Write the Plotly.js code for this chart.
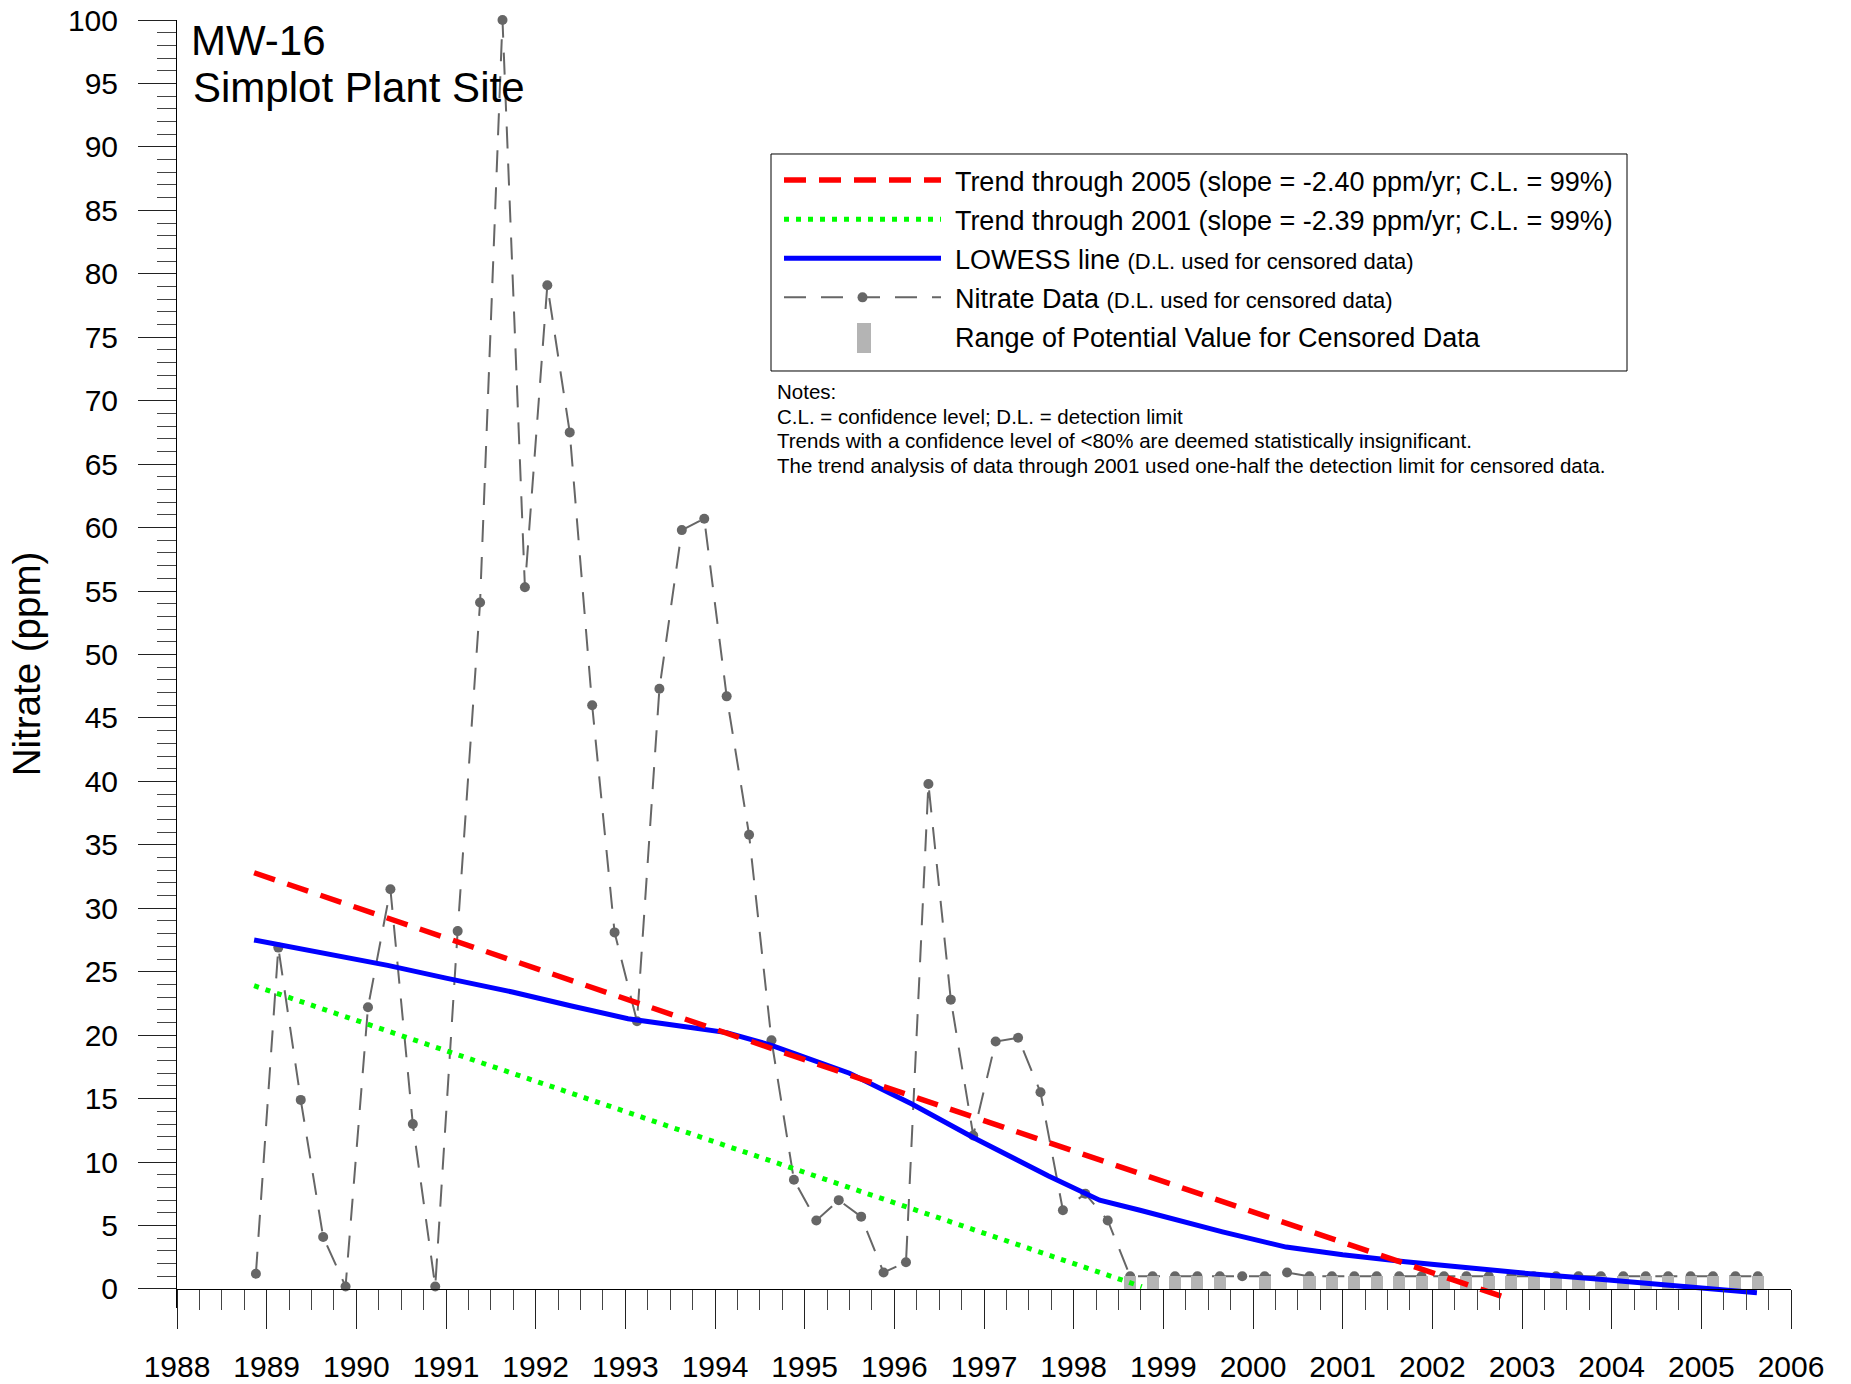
<!DOCTYPE html>
<html>
<head>
<meta charset="utf-8">
<script src="https://cdn.plot.ly/plotly-3.0.1.min.js"></script>
<style>html,body{margin:0;padding:0;background:#fff}#chart{width:1851px;height:1384px}</style>
</head>
<body>
<div id="chart"></div>
<script>
// ---- data ----
const sampleYears = [
  1988.88, 1989.13, 1989.38, 1989.63, 1989.88, 1990.13, 1990.38, 1990.63, 1990.88,
  1991.13, 1991.38, 1991.63, 1991.88, 1992.13, 1992.38, 1992.63, 1992.88,
  1993.13, 1993.38, 1993.63, 1993.88, 1994.13, 1994.38, 1994.63, 1994.88,
  1995.13, 1995.38, 1995.63, 1995.88, 1996.13, 1996.38, 1996.63, 1996.88,
  1997.13, 1997.38, 1997.63, 1997.88, 1998.13, 1998.38, 1998.63, 1998.88,
  1999.13, 1999.38, 1999.63, 1999.88, 2000.13, 2000.38, 2000.63, 2000.88,
  2001.13, 2001.38, 2001.63, 2001.88, 2002.13, 2002.38, 2002.63, 2002.88,
  2003.13, 2003.38, 2003.63, 2003.88, 2004.13, 2004.38, 2004.63, 2004.88,
  2005.13, 2005.38, 2005.63
];
const nitrate = [
  1.2, 26.9, 14.9, 4.1, 0.2, 22.2, 31.5, 13.0, 0.2,
  28.2, 54.1, 100, 55.3, 79.1, 67.5, 46.0, 28.1,
  21.1, 47.3, 59.8, 60.7, 46.7, 35.8, 19.6, 8.6,
  5.4, 7.0, 5.7, 1.3, 2.1, 39.8, 22.8, 12.1,
  19.5, 19.8, 15.5, 6.2, 7.5, 5.4, 1, 1,
  1, 1, 1, 1.0, 1, 1.3, 1, 1,
  1, 1, 1, 1, 1, 1, 1, 1,
  1, 1, 1, 1, 1, 1, 1, 1,
  1, 1, 1
];
const censored = [
  0, 0, 0, 0, 0, 0, 0, 0, 0,
  0, 0, 0, 0, 0, 0, 0, 0,
  0, 0, 0, 0, 0, 0, 0, 0,
  0, 0, 0, 0, 0, 0, 0, 0,
  0, 0, 0, 0, 0, 0, 1, 1,
  1, 1, 1, 0, 1, 0, 1, 1,
  1, 1, 1, 1, 1, 1, 1, 1,
  1, 1, 1, 1, 1, 1, 1, 1,
  1, 1, 1
];
const censoredLow = 0;

const trend2005Years = [1988.86, 2002.87];
const trend2005Values = [32.8, -0.81];
const trend2001Years = [1988.86, 1998.76];
const trend2001Values = [23.9, 0.18];

const lowessYears = [1988.86, 1989.6, 1990.35, 1991.0, 1991.74, 1992.4, 1993.03, 1993.73, 1994.13,
  1994.63, 1995.12, 1995.5, 1996.19, 1996.89, 1997.72, 1998.29, 1998.74, 1999.66, 2000.37,
  2001.0, 2001.7, 2002.4, 2003.09, 2003.8, 2004.42, 2005.0, 2005.62];
const lowessValues = [27.5, 26.5, 25.5, 24.5, 23.4, 22.3, 21.3, 20.6, 20.2,
  19.2, 18.0, 17.0, 14.6, 11.9, 8.9, 7.0, 6.2, 4.5, 3.3,
  2.7, 2.15, 1.65, 1.2, 0.8, 0.4, 0.05, -0.3];

const yearTicks = [1988, 1989, 1990, 1991, 1992, 1993, 1994, 1995, 1996, 1997,
  1998, 1999, 2000, 2001, 2002, 2003, 2004, 2005, 2006];
const yearTickText = ['1988', '1989', '1990', '1991', '1992', '1993', '1994', '1995', '1996', '1997',
  '1998', '1999', '2000', '2001', '2002', '2003', '2004', '2005', '2006'];
const nitrateTicks = [0, 5, 10, 15, 20, 25, 30, 35, 40, 45, 50, 55, 60, 65, 70, 75, 80, 85, 90, 95, 100];

const legendLabels = [
  'Trend through 2005 (slope = -2.40 ppm/yr; C.L. = 99%)',
  'Trend through 2001 (slope = -2.39 ppm/yr; C.L. = 99%)',
  'LOWESS line <span style="font-size:22px">(D.L. used for censored data)</span>',
  'Nitrate Data <span style="font-size:22px">(D.L. used for censored data)</span>',
  'Range of Potential Value for Censored Data'
];
const notesLines = [
  'Notes:',
  'C.L. = confidence level; D.L. = detection limit',
  'Trends with a confidence level of &lt;80% are deemed statistically insignificant.',
  'The trend analysis of data through 2001 used one-half the detection limit for censored data.'
];

// ---- derived ----
const censYears = [], censTop = [], censBase = [];
sampleYears.forEach((x, i) => { if (censored[i]) { censYears.push(x); censTop.push(nitrate[i] - censoredLow); censBase.push(censoredLow); } });
const gapSpan = '<span style="font-size:32px">&nbsp;</span>';
const legendNames = legendLabels.map(s => gapSpan + s);

// ---- geometry (pixels) ----
const W = 1851, H = 1384;
const plotLeft = 177, plotRight = 1791;
const yTopPx = 20, yZeroPx = 1289;
const yMin = -1.5, yMax = 100;
const pxPerUnit = (yZeroPx - yTopPx) / (yMax - 0);
const plotBottom = yZeroPx + (0 - yMin) * pxPerUnit;
const plotW = plotRight - plotLeft, plotH = plotBottom - yTopPx;
const px2x = p => (p - plotLeft) / plotW;
const px2y = p => (plotBottom - p) / plotH;

const FONT = 'Arial, "Liberation Sans", sans-serif';
const minorY = [];
for (let v = 0; v <= 100; v++) if (v % 5) minorY.push(v);

const traces = [
  {
    x: sampleYears, y: nitrate, type: 'scatter', mode: 'lines+markers',
    name: legendNames[3], legendrank: 4, legendgroup: 'g4',
    line: {color: '#666666', width: 2, dash: '22px,15px'},
    marker: {color: '#666666', size: 10},
    cliponaxis: false, hoverinfo: 'x+y'
  },
  {
    x: censYears, y: censTop, base: censBase, type: 'bar', yaxis: 'y2',
    width: 0.134, marker: {color: '#b4b4b4', line: {width: 0}},
    showlegend: false, name: 'censored range'
  },
  {
    x: lowessYears, y: lowessValues, type: 'scatter', mode: 'lines', yaxis: 'y2',
    name: legendNames[2], legendrank: 3, legendgroup: 'g3',
    line: {color: '#0000ff', width: 5}
  },
  {
    x: trend2001Years, y: trend2001Values, type: 'scatter', mode: 'lines', yaxis: 'y2',
    name: legendNames[1], legendrank: 2, legendgroup: 'g2',
    line: {color: '#00ff00', width: 5, dash: '5px,7px'}
  },
  {
    x: trend2005Years, y: trend2005Values, type: 'scatter', mode: 'lines', yaxis: 'y2',
    name: legendNames[0], legendrank: 1, legendgroup: 'g1',
    line: {color: '#ff0000', width: 5.5, dash: '22px,13px'}
  },
  {
    x: [null], y: [null], type: 'scatter', mode: 'markers', yaxis: 'y2',
    name: legendNames[4], legendrank: 5, legendgroup: 'g5',
    marker: {symbol: 'square', size: 12, color: 'rgba(0,0,0,0)'}
  }
];

const annotations = [
  {text: 'Simplot Plant Site', xref: 'paper', yref: 'paper', x: px2x(191), y: px2y(62),
   xanchor: 'left', yanchor: 'top', showarrow: false, align: 'left',
   font: {family: FONT, size: 42, color: '#000'}}
];
const notesTop = [392, 416.5, 441, 465.5];
notesLines.forEach((t, i) => annotations.push({
  text: t, xref: 'paper', yref: 'paper', x: px2x(775), y: px2y(notesTop[i]),
  xanchor: 'left', yanchor: 'middle', showarrow: false, align: 'left',
  font: {family: FONT, size: 20.5, color: '#000'}
}));

const layout = {
  width: W, height: H,
  paper_bgcolor: '#ffffff', plot_bgcolor: '#ffffff',
  font: {family: FONT, color: '#000000', size: 27},
  margin: {l: plotLeft, r: W - plotRight, t: yTopPx, b: H - plotBottom, pad: 0},
  showlegend: true,
  bargap: 0,
  title: {
    text: 'MW-16',
    font: {family: FONT, size: 42, color: '#000'},
    xref: 'paper', x: px2x(191), xanchor: 'left',
    yref: 'container', y: 1 - 26 / H, yanchor: 'top'
  },
  xaxis: {
    range: [1988, 2006], anchor: 'free', position: (0 - yMin) / (yMax - yMin),
    showline: true, linecolor: '#000', linewidth: 1,
    ticks: 'outside', ticklen: 39, tickwidth: 1, tickcolor: '#222',
    tickmode: 'array', tickvals: yearTicks, ticktext: yearTickText,
    tickfont: {family: FONT, size: 30, color: '#000'},
    ticklabelstandoff: 12,
    minor: {ticks: 'outside', tick0: 1988, dtick: 0.25, ticklen: 20, tickwidth: 1, tickcolor: '#444', showgrid: false},
    showgrid: false, zeroline: false, fixedrange: true
  },
  yaxis: {
    range: [yMin, yMax], showline: true, linecolor: '#000', linewidth: 1,
    ticks: 'outside', ticklen: 38, tickwidth: 1, tickcolor: '#222',
    tickmode: 'array', tickvals: nitrateTicks,
    tickfont: {family: FONT, size: 30, color: '#000'},
    ticklabelstandoff: 14,
    minor: {ticks: 'outside', tickmode: 'array', tickvals: minorY, ticklen: 19, tickwidth: 1, tickcolor: '#444', showgrid: false},
    showgrid: false, zeroline: false, fixedrange: true,
    title: {text: 'Nitrate (ppm)', font: {family: FONT, size: 38.5, color: '#000'}, standoff: 15}
  },
  yaxis2: {
    range: [yMin, yMax], overlaying: 'y', anchor: 'x', side: 'left', visible: false,
    showgrid: false, zeroline: false, fixedrange: true
  },
  legend: {
    x: px2x(779), xanchor: 'left', y: px2y(156), yanchor: 'top',
    bgcolor: 'rgba(0,0,0,0)', borderwidth: 0,
    font: {family: FONT, size: 27, color: '#000'},
    itemwidth: 157, itemsizing: 'trace', traceorder: 'grouped', tracegroupgap: 1,
    itemclick: false, itemdoubleclick: false
  },
  shapes: [
    {type: 'rect', xref: 'paper', yref: 'paper', x0: px2x(771), x1: px2x(1627), y0: px2y(371), y1: px2y(154),
     line: {color: '#000', width: 1}, fillcolor: 'rgba(0,0,0,0)', layer: 'above'},
    {type: 'rect', xref: 'paper', yref: 'paper', x0: px2x(857), x1: px2x(871), y0: px2y(353), y1: px2y(323),
     line: {width: 0}, fillcolor: '#b4b4b4', layer: 'above'}
  ],
  annotations: annotations
};

Plotly.newPlot('chart', traces, layout, {displayModeBar: false, staticPlot: true});
</script>
</body>
</html>
